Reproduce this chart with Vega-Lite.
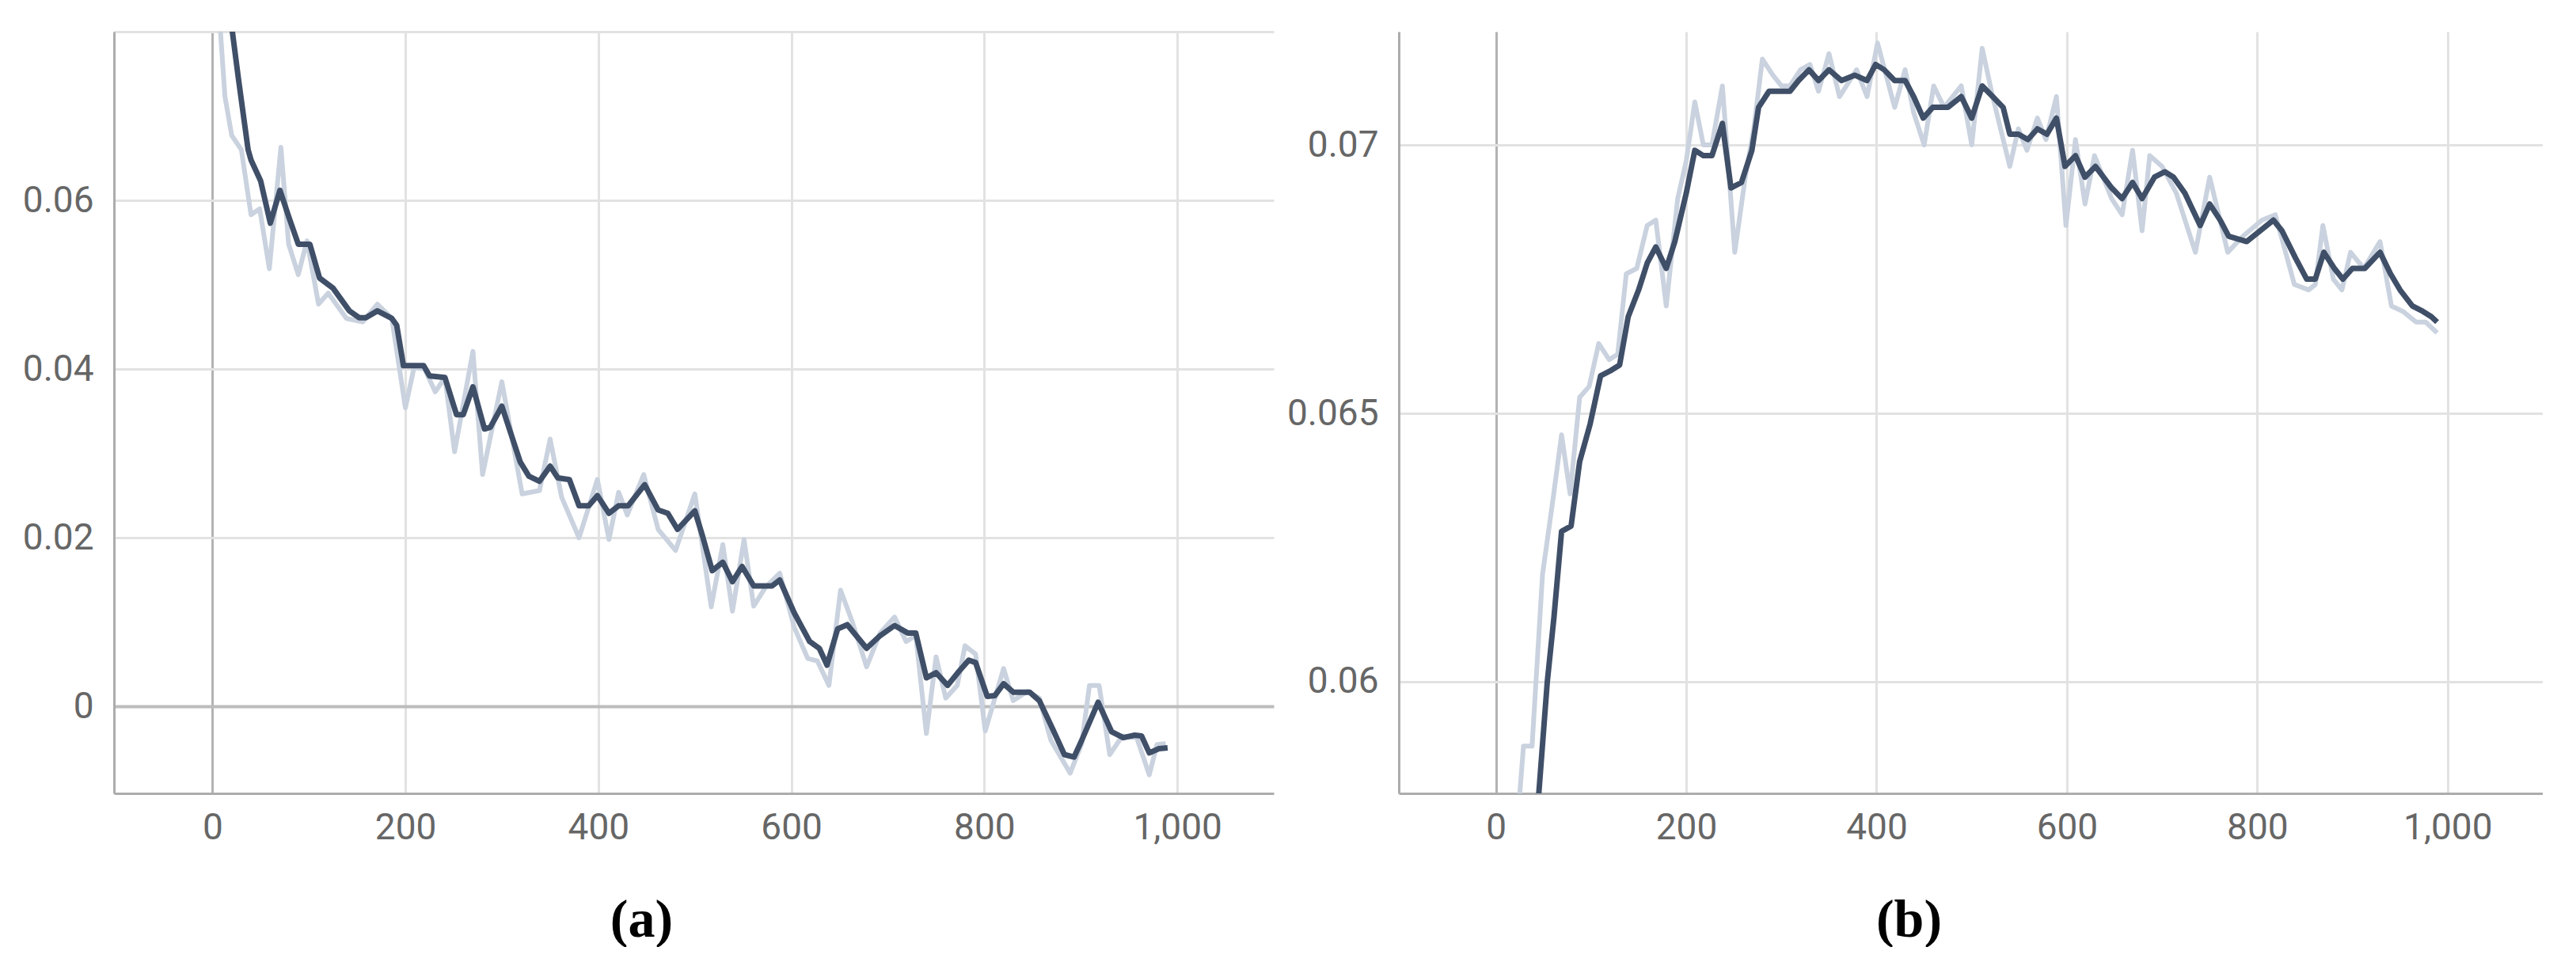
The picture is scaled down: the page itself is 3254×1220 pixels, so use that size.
{
  "$schema": "https://vega.github.io/schema/vega-lite/v6.json",
  "padding": {"left": 0, "top": 40, "right": 0, "bottom": 0},
  "background": "white",
  "spacing": 8,
  "datasets": {
    "a_raw": [
      {"step": 0, "value": 0.115}, {"step": 8, "value": 0.0806}, {"step": 13, "value": 0.0723}, {"step": 20, "value": 0.0677},
      {"step": 30, "value": 0.066}, {"step": 40, "value": 0.0583}, {"step": 49, "value": 0.059}, {"step": 59, "value": 0.0519},
      {"step": 71, "value": 0.0663}, {"step": 79, "value": 0.0548}, {"step": 89, "value": 0.0512}, {"step": 98, "value": 0.0552},
      {"step": 110, "value": 0.0477}, {"step": 120, "value": 0.049}, {"step": 139, "value": 0.046}, {"step": 156, "value": 0.0456},
      {"step": 171, "value": 0.0477}, {"step": 186, "value": 0.046}, {"step": 200, "value": 0.0354}, {"step": 209, "value": 0.0402},
      {"step": 220, "value": 0.04}, {"step": 231, "value": 0.0373}, {"step": 241, "value": 0.039}, {"step": 251, "value": 0.0302},
      {"step": 270, "value": 0.0421}, {"step": 280, "value": 0.0275}, {"step": 300, "value": 0.0385}, {"step": 321, "value": 0.0252},
      {"step": 339, "value": 0.0256}, {"step": 350, "value": 0.0317}, {"step": 362, "value": 0.0248}, {"step": 380, "value": 0.02},
      {"step": 399, "value": 0.0269}, {"step": 411, "value": 0.0198}, {"step": 421, "value": 0.0254}, {"step": 430, "value": 0.0227},
      {"step": 447, "value": 0.0275}, {"step": 462, "value": 0.021}, {"step": 480, "value": 0.0185}, {"step": 500, "value": 0.0252},
      {"step": 517, "value": 0.0118}, {"step": 529, "value": 0.0192}, {"step": 539, "value": 0.0113}, {"step": 551, "value": 0.0198},
      {"step": 561, "value": 0.0119}, {"step": 573, "value": 0.0141}, {"step": 588, "value": 0.0158}, {"step": 603, "value": 0.0094},
      {"step": 617, "value": 0.0057}, {"step": 627, "value": 0.0054}, {"step": 639, "value": 0.0025}, {"step": 651, "value": 0.0138},
      {"step": 663, "value": 0.0101}, {"step": 678, "value": 0.0047}, {"step": 692, "value": 0.0087}, {"step": 707, "value": 0.0106},
      {"step": 719, "value": 0.0077}, {"step": 729, "value": 0.0084}, {"step": 740, "value": -0.0032}, {"step": 750, "value": 0.0059},
      {"step": 760, "value": 0.001}, {"step": 772, "value": 0.0025}, {"step": 780, "value": 0.0072}, {"step": 791, "value": 0.0062},
      {"step": 801, "value": -0.0029}, {"step": 820, "value": 0.0045}, {"step": 830, "value": 0.0007}, {"step": 845, "value": 0.0018},
      {"step": 857, "value": 0.001}, {"step": 869, "value": -0.004}, {"step": 889, "value": -0.0079}, {"step": 901, "value": -0.0044},
      {"step": 909, "value": 0.0025}, {"step": 919, "value": 0.0025}, {"step": 930, "value": -0.0057}, {"step": 943, "value": -0.0035},
      {"step": 958, "value": -0.0037}, {"step": 971, "value": -0.0081}, {"step": 979, "value": -0.0045}, {"step": 988, "value": -0.0044}
    ],
    "a_smooth": [
      {"step": 0, "value": 0.112}, {"step": 10, "value": 0.094}, {"step": 20, "value": 0.0806}, {"step": 27, "value": 0.0744},
      {"step": 37, "value": 0.066}, {"step": 40, "value": 0.0648}, {"step": 50, "value": 0.0623}, {"step": 60, "value": 0.0573},
      {"step": 70, "value": 0.0612}, {"step": 79, "value": 0.0581}, {"step": 89, "value": 0.0548}, {"step": 101, "value": 0.0548},
      {"step": 111, "value": 0.0508}, {"step": 125, "value": 0.0496}, {"step": 142, "value": 0.0469}, {"step": 152, "value": 0.0461},
      {"step": 159, "value": 0.0461}, {"step": 171, "value": 0.0469}, {"step": 186, "value": 0.046}, {"step": 191, "value": 0.0452},
      {"step": 198, "value": 0.0404}, {"step": 219, "value": 0.0404}, {"step": 225, "value": 0.0392}, {"step": 241, "value": 0.039},
      {"step": 253, "value": 0.0346}, {"step": 260, "value": 0.0346}, {"step": 270, "value": 0.0379}, {"step": 282, "value": 0.0329},
      {"step": 288, "value": 0.0331}, {"step": 300, "value": 0.0356}, {"step": 319, "value": 0.029}, {"step": 328, "value": 0.0273},
      {"step": 339, "value": 0.0267}, {"step": 350, "value": 0.0285}, {"step": 358, "value": 0.0271}, {"step": 370, "value": 0.0269},
      {"step": 380, "value": 0.0238}, {"step": 390, "value": 0.0238}, {"step": 399, "value": 0.025}, {"step": 411, "value": 0.0229},
      {"step": 421, "value": 0.0238}, {"step": 431, "value": 0.0238}, {"step": 448, "value": 0.0263}, {"step": 462, "value": 0.0233},
      {"step": 472, "value": 0.0229}, {"step": 482, "value": 0.021}, {"step": 500, "value": 0.0232}, {"step": 508, "value": 0.0202},
      {"step": 518, "value": 0.0161}, {"step": 529, "value": 0.0171}, {"step": 539, "value": 0.0148}, {"step": 549, "value": 0.0166},
      {"step": 561, "value": 0.0143}, {"step": 580, "value": 0.0143}, {"step": 588, "value": 0.015}, {"step": 603, "value": 0.0111},
      {"step": 619, "value": 0.0077}, {"step": 629, "value": 0.0069}, {"step": 637, "value": 0.0049}, {"step": 648, "value": 0.0092},
      {"step": 658, "value": 0.0097}, {"step": 678, "value": 0.0069}, {"step": 692, "value": 0.0084}, {"step": 707, "value": 0.0096},
      {"step": 721, "value": 0.0087}, {"step": 729, "value": 0.0087}, {"step": 740, "value": 0.0034}, {"step": 750, "value": 0.004},
      {"step": 762, "value": 0.0025}, {"step": 774, "value": 0.0042}, {"step": 784, "value": 0.0055}, {"step": 791, "value": 0.0052},
      {"step": 803, "value": 0.0012}, {"step": 811, "value": 0.0013}, {"step": 820, "value": 0.0027}, {"step": 830, "value": 0.0017},
      {"step": 847, "value": 0.0017}, {"step": 857, "value": 0.0007}, {"step": 871, "value": -0.0027}, {"step": 883, "value": -0.0057},
      {"step": 893, "value": -0.006}, {"step": 901, "value": -0.004}, {"step": 918, "value": 0.0005}, {"step": 932, "value": -0.003},
      {"step": 944, "value": -0.0037}, {"step": 956, "value": -0.0034}, {"step": 963, "value": -0.0035}, {"step": 971, "value": -0.0055},
      {"step": 981, "value": -0.005}, {"step": 990, "value": -0.0049}
    ],
    "b_raw": [
      {"step": 0, "value": 0.048}, {"step": 10, "value": 0.053}, {"step": 20, "value": 0.056}, {"step": 25, "value": 0.0579},
      {"step": 29, "value": 0.0588}, {"step": 38, "value": 0.0588}, {"step": 49, "value": 0.062}, {"step": 60, "value": 0.0634},
      {"step": 69, "value": 0.0646}, {"step": 78, "value": 0.0635}, {"step": 88, "value": 0.0653}, {"step": 98, "value": 0.0655},
      {"step": 108, "value": 0.0663}, {"step": 119, "value": 0.066}, {"step": 128, "value": 0.0661}, {"step": 137, "value": 0.0676},
      {"step": 148, "value": 0.0677}, {"step": 159, "value": 0.0685}, {"step": 168, "value": 0.0686}, {"step": 179, "value": 0.067},
      {"step": 191, "value": 0.069}, {"step": 200, "value": 0.0697}, {"step": 209, "value": 0.0708}, {"step": 218, "value": 0.07},
      {"step": 227, "value": 0.07}, {"step": 238, "value": 0.0711}, {"step": 251, "value": 0.068}, {"step": 262, "value": 0.0694},
      {"step": 271, "value": 0.0703}, {"step": 280, "value": 0.0716}, {"step": 291, "value": 0.0713}, {"step": 300, "value": 0.0711},
      {"step": 309, "value": 0.0711}, {"step": 320, "value": 0.0714}, {"step": 330, "value": 0.0715}, {"step": 339, "value": 0.071},
      {"step": 350, "value": 0.0717}, {"step": 361, "value": 0.0709}, {"step": 379, "value": 0.0714}, {"step": 390, "value": 0.0709},
      {"step": 401, "value": 0.0719}, {"step": 410, "value": 0.0713}, {"step": 419, "value": 0.0707}, {"step": 430, "value": 0.0714},
      {"step": 439, "value": 0.0706}, {"step": 450, "value": 0.07}, {"step": 460, "value": 0.0711}, {"step": 471, "value": 0.0707},
      {"step": 489, "value": 0.0711}, {"step": 500, "value": 0.07}, {"step": 511, "value": 0.0718}, {"step": 522, "value": 0.0709},
      {"step": 540, "value": 0.0696}, {"step": 549, "value": 0.0703}, {"step": 558, "value": 0.0699}, {"step": 569, "value": 0.0705},
      {"step": 578, "value": 0.0701}, {"step": 589, "value": 0.0709}, {"step": 599, "value": 0.0685}, {"step": 609, "value": 0.0701},
      {"step": 619, "value": 0.0689}, {"step": 629, "value": 0.0698}, {"step": 647, "value": 0.069}, {"step": 658, "value": 0.0687},
      {"step": 669, "value": 0.0699}, {"step": 679, "value": 0.0684}, {"step": 687, "value": 0.0698}, {"step": 700, "value": 0.0696},
      {"step": 715, "value": 0.0691}, {"step": 735, "value": 0.068}, {"step": 750, "value": 0.0694}, {"step": 769, "value": 0.068},
      {"step": 785, "value": 0.0683}, {"step": 805, "value": 0.0686}, {"step": 819, "value": 0.0687}, {"step": 839, "value": 0.0674},
      {"step": 854, "value": 0.0673}, {"step": 861, "value": 0.0674}, {"step": 869, "value": 0.0685}, {"step": 880, "value": 0.0675},
      {"step": 889, "value": 0.0673}, {"step": 898, "value": 0.068}, {"step": 912, "value": 0.0677}, {"step": 929, "value": 0.0682},
      {"step": 941, "value": 0.067}, {"step": 953, "value": 0.0669}, {"step": 967, "value": 0.0667}, {"step": 977, "value": 0.0667},
      {"step": 989, "value": 0.0665}
    ],
    "b_smooth": [
      {"step": 0, "value": 0.048}, {"step": 20, "value": 0.053}, {"step": 35, "value": 0.056}, {"step": 45, "value": 0.0579},
      {"step": 54, "value": 0.06}, {"step": 61, "value": 0.0612}, {"step": 69, "value": 0.0628}, {"step": 79, "value": 0.0629},
      {"step": 88, "value": 0.0641}, {"step": 99, "value": 0.0648}, {"step": 110, "value": 0.0657}, {"step": 121, "value": 0.0658},
      {"step": 130, "value": 0.0659}, {"step": 139, "value": 0.0668}, {"step": 150, "value": 0.0673}, {"step": 159, "value": 0.0678},
      {"step": 168, "value": 0.0681}, {"step": 179, "value": 0.0677}, {"step": 188, "value": 0.0682}, {"step": 200, "value": 0.0691},
      {"step": 209, "value": 0.0699}, {"step": 218, "value": 0.0698}, {"step": 227, "value": 0.0698}, {"step": 238, "value": 0.0704},
      {"step": 247, "value": 0.0692}, {"step": 258, "value": 0.0693}, {"step": 269, "value": 0.0699}, {"step": 276, "value": 0.0707},
      {"step": 287, "value": 0.071}, {"step": 309, "value": 0.071}, {"step": 318, "value": 0.0712}, {"step": 329, "value": 0.0714},
      {"step": 339, "value": 0.0712}, {"step": 350, "value": 0.0714}, {"step": 363, "value": 0.0712}, {"step": 377, "value": 0.0713},
      {"step": 390, "value": 0.0712}, {"step": 399, "value": 0.0715}, {"step": 408, "value": 0.0714}, {"step": 419, "value": 0.0712},
      {"step": 430, "value": 0.0712}, {"step": 439, "value": 0.0709}, {"step": 449, "value": 0.0705}, {"step": 459, "value": 0.0707},
      {"step": 475, "value": 0.0707}, {"step": 489, "value": 0.0709}, {"step": 500, "value": 0.0705}, {"step": 511, "value": 0.0711},
      {"step": 522, "value": 0.0709}, {"step": 533, "value": 0.0707}, {"step": 540, "value": 0.0702}, {"step": 549, "value": 0.0702},
      {"step": 559, "value": 0.0701}, {"step": 569, "value": 0.0703}, {"step": 579, "value": 0.0702}, {"step": 589, "value": 0.0705},
      {"step": 598, "value": 0.0696}, {"step": 609, "value": 0.0698}, {"step": 619, "value": 0.0694}, {"step": 630, "value": 0.0696},
      {"step": 647, "value": 0.0692}, {"step": 658, "value": 0.069}, {"step": 669, "value": 0.0693}, {"step": 679, "value": 0.069},
      {"step": 692, "value": 0.0694}, {"step": 703, "value": 0.0695}, {"step": 712, "value": 0.0694}, {"step": 724, "value": 0.0691},
      {"step": 740, "value": 0.0685}, {"step": 750, "value": 0.0689}, {"step": 761, "value": 0.0686}, {"step": 770, "value": 0.0683},
      {"step": 789, "value": 0.0682}, {"step": 803, "value": 0.0684}, {"step": 817, "value": 0.0686}, {"step": 826, "value": 0.0684},
      {"step": 840, "value": 0.0679}, {"step": 852, "value": 0.0675}, {"step": 861, "value": 0.0675}, {"step": 870, "value": 0.068},
      {"step": 881, "value": 0.0677}, {"step": 890, "value": 0.0675}, {"step": 900, "value": 0.0677}, {"step": 913, "value": 0.0677},
      {"step": 929, "value": 0.068}, {"step": 940, "value": 0.0676}, {"step": 950, "value": 0.0673}, {"step": 963, "value": 0.067},
      {"step": 974, "value": 0.0669}, {"step": 983, "value": 0.0668}, {"step": 989, "value": 0.0667}
    ]
  },
  "hconcat": [
    {
      "width": 1465,
      "height": 962,
      "layer": [
        {
          "data": {"name": "a_raw"},
          "mark": {"type": "line", "color": "#c9d2de", "strokeWidth": 6, "strokeJoin": "round", "clip": true},
          "encoding": {
            "x": {
              "field": "step", "type": "quantitative",
              "scale": {"domain": [-102, 1100], "nice": false, "zero": false},
              "axis": {
                "values": [0, 200, 400, 600, 800, 1000], "format": ",.0f",
                "gridColor": {"condition": {"test": "datum.value === 0", "value": "#b3b3b3"}, "value": "#e2e2e2"},
                "title": "(a)", "titleX": 666, "titleY": 160, "titleBaseline": "middle", "titleAlign": "center", "titleAngle": 0
              }
            },
            "y": {
              "field": "value", "type": "quantitative",
              "scale": {"domain": [-0.0103, 0.08], "nice": false, "zero": false},
              "axis": {
                "values": [0, 0.02, 0.04, 0.06, 0.08],
                "labelExpr": "datum.value > 0.07 ? '' : format(datum.value, '.2~f')",
                "gridColor": {"condition": {"test": "datum.value === 0", "value": "#bcbcbc"}, "value": "#e2e2e2"},
                "gridWidth": {"condition": {"test": "datum.value === 0", "value": 4}, "value": 3},
                "minExtent": 144, "maxExtent": 144, "title": null
              }
            }
          }
        },
        {
          "data": {"name": "a_smooth"},
          "mark": {"type": "line", "color": "#404f68", "strokeWidth": 7, "strokeJoin": "round", "clip": true},
          "encoding": {
            "x": {"field": "step", "type": "quantitative"},
            "y": {"field": "value", "type": "quantitative"}
          }
        }
      ]
    },
    {
      "width": 1445,
      "height": 962,
      "layer": [
        {
          "data": {"name": "b_raw"},
          "mark": {"type": "line", "color": "#c9d2de", "strokeWidth": 6, "strokeJoin": "round", "clip": true},
          "encoding": {
            "x": {
              "field": "step", "type": "quantitative",
              "scale": {"domain": [-102, 1100], "nice": false, "zero": false},
              "axis": {
                "values": [0, 200, 400, 600, 800, 1000], "format": ",.0f",
                "gridColor": {"condition": {"test": "datum.value === 0", "value": "#b3b3b3"}, "value": "#e2e2e2"},
                "title": "(b)", "titleX": 644, "titleY": 160, "titleBaseline": "middle", "titleAlign": "center", "titleAngle": 0
              }
            },
            "y": {
              "field": "value", "type": "quantitative",
              "scale": {"domain": [0.05792, 0.07211], "nice": false, "zero": false},
              "axis": {
                "values": [0.06, 0.065, 0.07], "format": ".3~f",
                "minExtent": 150, "maxExtent": 150, "title": null
              }
            }
          }
        },
        {
          "data": {"name": "b_smooth"},
          "mark": {"type": "line", "color": "#404f68", "strokeWidth": 7, "strokeJoin": "round", "clip": true},
          "encoding": {
            "x": {"field": "step", "type": "quantitative"},
            "y": {"field": "value", "type": "quantitative"}
          }
        }
      ]
    }
  ],
  "config": {
    "view": {"stroke": null},
    "axis": {
      "domainColor": "#acacac", "domainWidth": 3,
      "gridColor": "#e2e2e2", "gridWidth": 3,
      "ticks": false,
      "labelFont": "Roboto", "labelFontSize": 46, "labelColor": "#666666",
      "titleFont": "Liberation Serif", "titleFontSize": 68, "titleFontWeight": "bold", "titleColor": "#000000"
    },
    "axisX": {"labelPadding": 21},
    "axisY": {"labelPadding": 26}
  }
}
